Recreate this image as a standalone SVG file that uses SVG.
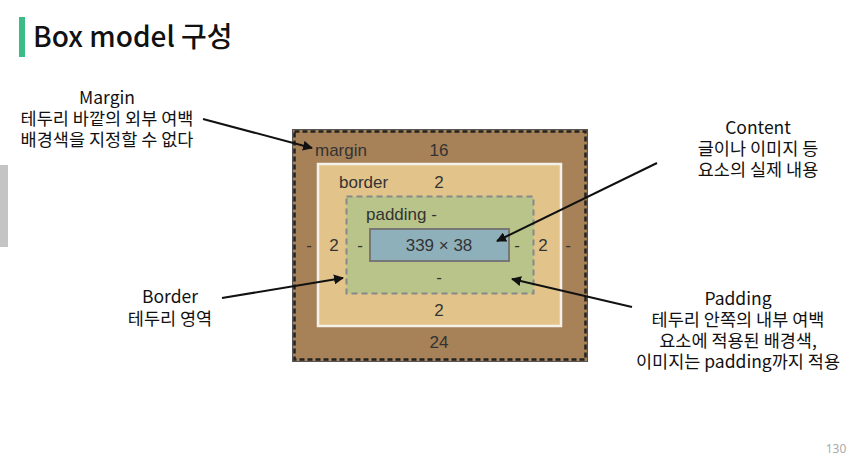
<svg xmlns="http://www.w3.org/2000/svg" width="860" height="463" viewBox="0 0 860 463">
<defs>
<style>
.lbl{font-family:"Noto Sans CJK KR","Noto Sans",sans-serif;font-size:17.5px;fill:#111;text-anchor:middle}
.bx{font-family:"Liberation Sans","Noto Sans",sans-serif;font-size:17px;fill:#333}
.c{text-anchor:middle}
.arr{stroke:#111;stroke-width:2;fill:none;marker-end:url(#ah)}
</style>
<marker id="ah" viewBox="0 0 10 10" refX="9" refY="5" markerWidth="5" markerHeight="5" orient="auto" markerUnits="strokeWidth">
<path d="M0,0 L10,5 L0,10 z" fill="#111"/>
</marker>
</defs>
<rect width="860" height="463" fill="#ffffff"/>
<g id="title">
<rect x="19" y="17" width="6" height="40" fill="#3dbb86"/>
<text x="33" y="47" font-family="'Noto Sans CJK KR','Noto Sans',sans-serif" font-size="28" font-weight="500" fill="#111">Box model 구성</text>
</g>
<rect x="0" y="165" width="8" height="82" fill="#c4c4c4"/>
<g id="box-margin">
<rect x="292.5" y="129.5" width="295" height="232" fill="#a78158" stroke="#555" stroke-width="1"/>
<rect x="294.5" y="131.5" width="291" height="228" fill="none" stroke="#222" stroke-width="2.5" stroke-dasharray="5,3"/>
<text class="bx" x="315" y="156">margin</text>
<text class="bx c" x="439" y="156">16</text>
<text class="bx c" x="309" y="251">-</text>
<text class="bx c" x="568" y="251">-</text>
<text class="bx c" x="439" y="348">24</text>
</g>
<g id="box-border">
<rect x="318" y="164" width="243" height="162" fill="#e2c48b" stroke="#f4f1ea" stroke-width="2.5"/>
<text class="bx" x="339" y="188">border</text>
<text class="bx c" x="439" y="188">2</text>
<text class="bx c" x="334" y="251">2</text>
<text class="bx c" x="543" y="251">2</text>
<text class="bx c" x="439" y="316">2</text>
</g>
<g id="box-padding">
<rect x="346.5" y="196.5" width="187" height="97" fill="#b8c48a" stroke="#888" stroke-width="2" stroke-dasharray="6,4"/>
<text class="bx" x="366" y="220">padding -</text>
<text class="bx c" x="360" y="251">-</text>
<text class="bx c" x="517" y="251">-</text>
<text class="bx c" x="439" y="283">-</text>
</g>
<g id="box-content">
<rect x="370" y="229" width="139" height="32" fill="#8eb0bb" stroke="#777" stroke-width="2"/>
<text class="bx c" x="439" y="251">339 × 38</text>
</g>
<g id="label-margin">
<text class="lbl" x="107" y="104">Margin</text>
<text class="lbl" x="107" y="125">테두리 바깥의 외부 여백</text>
<text class="lbl" x="107" y="146">배경색을 지정할 수 없다</text>
</g>
<g id="label-content">
<text class="lbl" x="758" y="134">Content</text>
<text class="lbl" x="758" y="155">글이나 이미지 등</text>
<text class="lbl" x="758" y="176">요소의 실제 내용</text>
</g>
<g id="label-border">
<text class="lbl" x="170" y="303">Border</text>
<text class="lbl" x="170" y="325">테두리 영역</text>
</g>
<g id="label-padding">
<text class="lbl" x="738" y="305">Padding</text>
<text class="lbl" x="738" y="326">테두리 안쪽의 내부 여백</text>
<text class="lbl" x="738" y="347">요소에 적용된 배경색,</text>
<text class="lbl" x="738" y="368">이미지는 padding까지 적용</text>
</g>
<g id="connectors">
<line class="arr" x1="203" y1="119" x2="312" y2="148"/>
<line class="arr" x1="657" y1="163" x2="497" y2="241"/>
<line class="arr" x1="222" y1="298" x2="343" y2="278"/>
<line class="arr" x1="632" y1="307" x2="512" y2="279"/>
</g>
<text x="836" y="453" font-family="'Noto Sans','Liberation Sans',sans-serif" font-size="12" fill="#aaa" text-anchor="middle">130</text>
</svg>
